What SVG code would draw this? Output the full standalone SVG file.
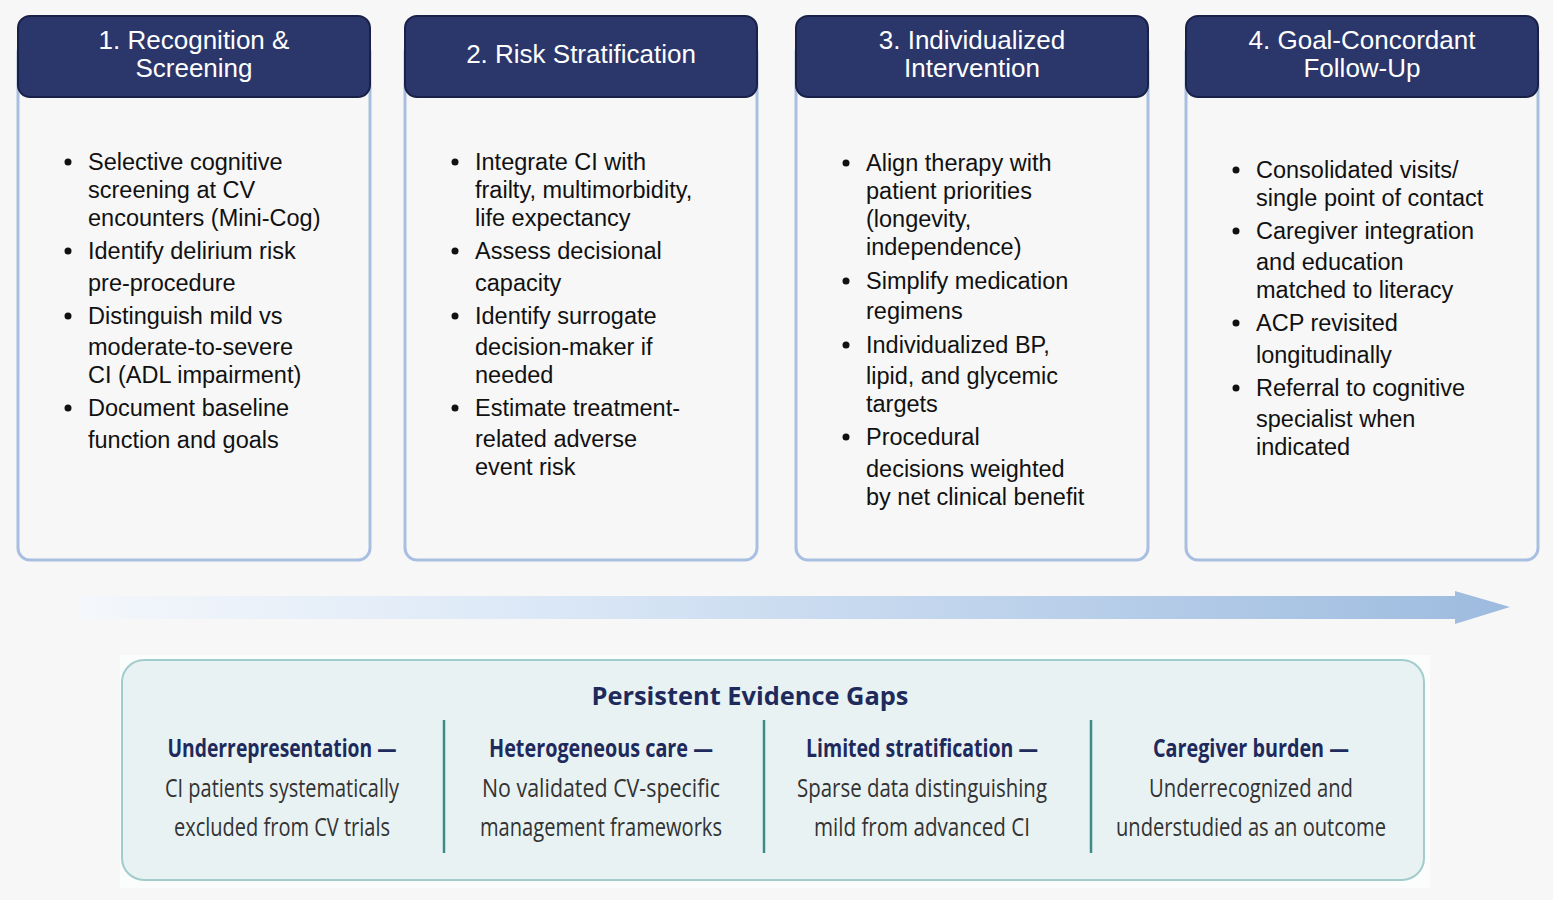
<svg xmlns="http://www.w3.org/2000/svg" width="1553" height="900" viewBox="0 0 1553 900">
<defs>
<linearGradient id="ag" x1="0" x2="1" y1="0" y2="0"><stop offset="0" stop-color="#f4f7fb"/><stop offset="0.3" stop-color="#dde9f7"/><stop offset="1" stop-color="#9dbbdf"/></linearGradient>
<style>
.card{fill:#f7f7f7;stroke:#a9bfe2;stroke-width:3}
.hdr{fill:#2b376b;stroke:#1a2148;stroke-width:2}
.ht{font-family:"Liberation Sans",Arial,sans-serif;font-size:26px;fill:#fff;text-anchor:middle}
.bt{font-family:"Liberation Sans",Arial,sans-serif;font-size:23.5px;fill:#111}
.gh{font-family:"Open Sans","Liberation Sans",sans-serif;font-weight:bold;font-size:25px;fill:#1f2a5c;text-anchor:middle}
.gb{font-family:"Open Sans","Liberation Sans",sans-serif;font-size:25px;fill:#333;text-anchor:middle}
.div{stroke:#3e8a8a;stroke-width:2.5}
</style>
</defs>
<rect width="1553" height="900" fill="#f7f7f7"/>
<g id="connectors">
<path d="M80 596 H1455 V591 L1510 607 L1455 624 V619 H80 Z" fill="url(#ag)"/>
</g>
<g id="n1">
<rect class="card" x="18" y="40" width="352" height="520" rx="12"/>
<rect class="hdr" x="18" y="16" width="352" height="81" rx="12"/>
<text class="ht" x="194" y="49">1. Recognition &amp;</text><text class="ht" x="194" y="77">Screening</text>
<g class="bt">
<circle cx="68" cy="162" r="3.5"/><text x="88" y="170">Selective cognitive</text><text x="88" y="198">screening at CV</text><text x="88" y="226">encounters (Mini-Cog)</text>
<circle cx="68" cy="251" r="3.5"/><text x="88" y="259">Identify delirium risk</text><text x="88" y="291">pre-procedure</text>
<circle cx="68" cy="316" r="3.5"/><text x="88" y="324">Distinguish mild vs</text><text x="88" y="355">moderate-to-severe</text><text x="88" y="383">CI (ADL impairment)</text>
<circle cx="68" cy="408" r="3.5"/><text x="88" y="416">Document baseline</text><text x="88" y="448">function and goals</text>
</g>
</g>
<g id="n2">
<rect class="card" x="405" y="40" width="352" height="520" rx="12"/>
<rect class="hdr" x="405" y="16" width="352" height="81" rx="12"/>
<text class="ht" x="581" y="63">2. Risk Stratification</text>
<g class="bt">
<circle cx="455" cy="162" r="3.5"/><text x="475" y="170">Integrate CI with</text><text x="475" y="198">frailty, multimorbidity,</text><text x="475" y="226">life expectancy</text>
<circle cx="455" cy="251" r="3.5"/><text x="475" y="259">Assess decisional</text><text x="475" y="291">capacity</text>
<circle cx="455" cy="316" r="3.5"/><text x="475" y="324">Identify surrogate</text><text x="475" y="355">decision-maker if</text><text x="475" y="383">needed</text>
<circle cx="455" cy="408" r="3.5"/><text x="475" y="416">Estimate treatment-</text><text x="475" y="447">related adverse</text><text x="475" y="475">event risk</text>
</g>
</g>
<g id="n3">
<rect class="card" x="796" y="40" width="352" height="520" rx="12"/>
<rect class="hdr" x="796" y="16" width="352" height="81" rx="12"/>
<text class="ht" x="972" y="49">3. Individualized</text><text class="ht" x="972" y="77">Intervention</text>
<g class="bt">
<circle cx="846" cy="163" r="3.5"/><text x="866" y="171">Align therapy with</text><text x="866" y="199">patient priorities</text><text x="866" y="227">(longevity,</text><text x="866" y="255">independence)</text>
<circle cx="846" cy="281" r="3.5"/><text x="866" y="289">Simplify medication</text><text x="866" y="319">regimens</text>
<circle cx="846" cy="345" r="3.5"/><text x="866" y="353">Individualized BP,</text><text x="866" y="384">lipid, and glycemic</text><text x="866" y="412">targets</text>
<circle cx="846" cy="437" r="3.5"/><text x="866" y="445">Procedural</text><text x="866" y="477">decisions weighted</text><text x="866" y="505">by net clinical benefit</text>
</g>
</g>
<g id="n4">
<rect class="card" x="1186" y="40" width="352" height="520" rx="12"/>
<rect class="hdr" x="1186" y="16" width="352" height="81" rx="12"/>
<text class="ht" x="1362" y="49">4. Goal-Concordant</text><text class="ht" x="1362" y="77">Follow-Up</text>
<g class="bt">
<circle cx="1236" cy="170" r="3.5"/><text x="1256" y="178">Consolidated visits/</text><text x="1256" y="206">single point of contact</text>
<circle cx="1236" cy="231" r="3.5"/><text x="1256" y="239">Caregiver integration</text><text x="1256" y="270">and education</text><text x="1256" y="298">matched to literacy</text>
<circle cx="1236" cy="323" r="3.5"/><text x="1256" y="331">ACP revisited</text><text x="1256" y="363">longitudinally</text>
<circle cx="1236" cy="388" r="3.5"/><text x="1256" y="396">Referral to cognitive</text><text x="1256" y="427">specialist when</text><text x="1256" y="455">indicated</text>
</g>
</g>
<g id="gaps">
<rect x="120" y="655" width="1310" height="233" fill="#fbfcfc"/>
<rect x="122" y="660" width="1302" height="220" rx="22" fill="#e8f2f3" stroke="#a2cccc" stroke-width="2"/>
<text class="gh" x="750" y="705" font-size="30" textLength="317" lengthAdjust="spacingAndGlyphs">Persistent Evidence Gaps</text>
<line class="div" x1="444" y1="720" x2="444" y2="853"/>
<line class="div" x1="764" y1="720" x2="764" y2="853"/>
<line class="div" x1="1091" y1="720" x2="1091" y2="853"/>
<text class="gh" x="282" y="757" textLength="229" lengthAdjust="spacingAndGlyphs">Underrepresentation —</text>
<text class="gb" x="282" y="797" textLength="234" lengthAdjust="spacingAndGlyphs">CI patients systematically</text>
<text class="gb" x="282" y="836" textLength="216" lengthAdjust="spacingAndGlyphs">excluded from CV trials</text>
<text class="gh" x="601" y="757" textLength="224" lengthAdjust="spacingAndGlyphs">Heterogeneous care —</text>
<text class="gb" x="601" y="797" textLength="238" lengthAdjust="spacingAndGlyphs">No validated CV-specific</text>
<text class="gb" x="601" y="836" textLength="242" lengthAdjust="spacingAndGlyphs">management frameworks</text>
<text class="gh" x="922" y="757" textLength="232" lengthAdjust="spacingAndGlyphs">Limited stratification —</text>
<text class="gb" x="922" y="797" textLength="250" lengthAdjust="spacingAndGlyphs">Sparse data distinguishing</text>
<text class="gb" x="922" y="836" textLength="216" lengthAdjust="spacingAndGlyphs">mild from advanced CI</text>
<text class="gh" x="1251" y="757" textLength="196" lengthAdjust="spacingAndGlyphs">Caregiver burden —</text>
<text class="gb" x="1251" y="797" textLength="204" lengthAdjust="spacingAndGlyphs">Underrecognized and</text>
<text class="gb" x="1251" y="836" textLength="270" lengthAdjust="spacingAndGlyphs">understudied as an outcome</text>
</g>
</svg>
